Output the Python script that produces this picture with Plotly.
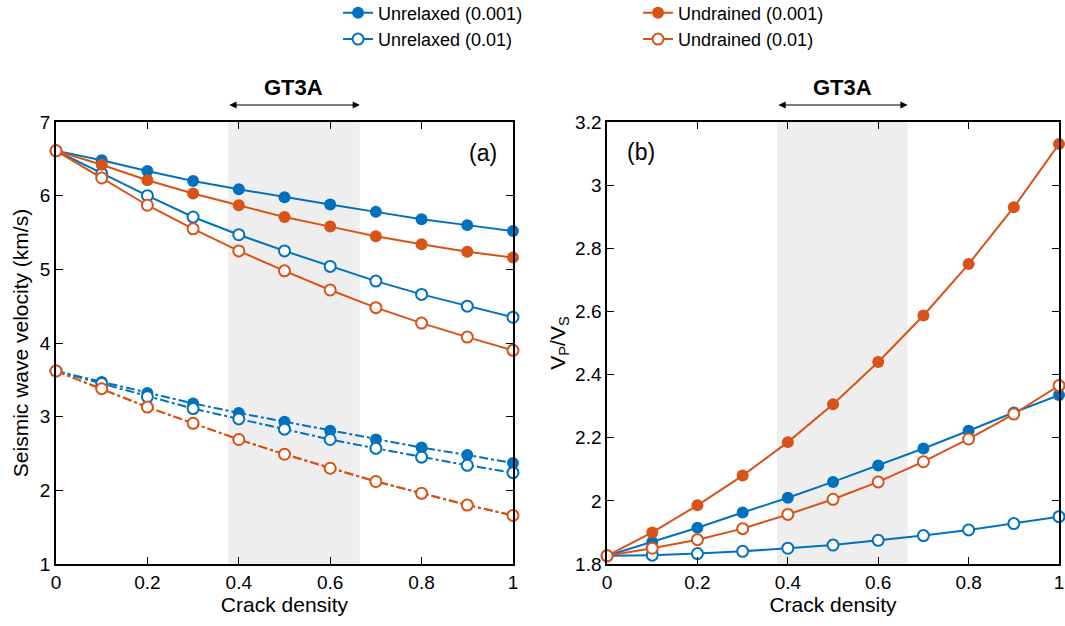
import plotly.graph_objects as go

crack = [0, 0.1, 0.2, 0.3, 0.4, 0.5, 0.6, 0.7, 0.8, 0.9, 1.0]

# Panel (a): velocities (km/s)
vp_unrelaxed_001 = [6.61, 6.48, 6.335, 6.20, 6.086, 5.98, 5.88, 5.78, 5.68, 5.60, 5.52]
vp_unrelaxed_01 = [6.61, 6.30, 6.00, 5.71, 5.47, 5.25, 5.04, 4.84, 4.66, 4.50, 4.35]
vp_undrained_001 = [6.61, 6.42, 6.21, 6.03, 5.87, 5.71, 5.58, 5.45, 5.34, 5.24, 5.16]
vp_undrained_01 = [6.61, 6.24, 5.87, 5.55, 5.25, 4.98, 4.72, 4.48, 4.27, 4.08, 3.90]

vs_unrelaxed_001 = [3.62, 3.47, 3.32, 3.18, 3.05, 2.93, 2.81, 2.69, 2.58, 2.48, 2.37]
vs_unrelaxed_01 = [3.62, 3.45, 3.27, 3.11, 2.97, 2.83, 2.69, 2.57, 2.45, 2.34, 2.24]
vs_undrained_001 = [3.62, 3.38, 3.13, 2.91, 2.69, 2.49, 2.30, 2.12, 1.96, 1.80, 1.66]
vs_undrained_01 = [3.62, 3.38, 3.13, 2.91, 2.69, 2.49, 2.30, 2.12, 1.96, 1.80, 1.66]

# Panel (b): Vp/Vs
ratio_unrelaxed_001 = [1.826, 1.87, 1.915, 1.963, 2.01, 2.06, 2.112, 2.166, 2.222, 2.28, 2.335]
ratio_unrelaxed_01 = [1.826, 1.828, 1.833, 1.84, 1.85, 1.86, 1.875, 1.89, 1.908, 1.928, 1.95]
ratio_undrained_001 = [1.826, 1.90, 1.986, 2.08, 2.186, 2.306, 2.44, 2.587, 2.75, 2.93, 3.13]
ratio_undrained_01 = [1.826, 1.85, 1.877, 1.912, 1.957, 2.005, 2.06, 2.124, 2.196, 2.275, 2.365]

gt3a_range = [0.376, 0.665]

BLUE = "#0072BD"
ORANGE = "#D95319"
FONT = "Liberation Sans, Arial, Helvetica, sans-serif"

fig = go.Figure()


def add(x, y, name, color, filled, dash, xa, ya, showlegend, legend):
    marker = dict(symbol="circle", size=12 if filled else 11,
                  color=color if filled else "white",
                  line=dict(color=color, width=0 if filled else 2))
    fig.add_trace(go.Scatter(
        x=x, y=y, name=name, mode="lines+markers",
        line=dict(color=color, width=2, dash=dash),
        marker=marker, xaxis=xa, yaxis=ya,
        showlegend=showlegend, legend=legend, cliponaxis=False))


# Panel (a)
add(crack, vp_unrelaxed_001, "Unrelaxed (0.001)", BLUE, True, "solid", "x", "y", True, "legend")
add(crack, vp_unrelaxed_01, "Unrelaxed (0.01)", BLUE, False, "solid", "x", "y", True, "legend")
add(crack, vp_undrained_001, "Undrained (0.001)", ORANGE, True, "solid", "x", "y", True, "legend2")
add(crack, vp_undrained_01, "Undrained (0.01)", ORANGE, False, "solid", "x", "y", True, "legend2")
add(crack, vs_unrelaxed_001, "Unrelaxed (0.001)", BLUE, True, "dashdot", "x", "y", False, "legend")
add(crack, vs_unrelaxed_01, "Unrelaxed (0.01)", BLUE, False, "dashdot", "x", "y", False, "legend")
add(crack, vs_undrained_001, "Undrained (0.001)", ORANGE, True, "dashdot", "x", "y", False, "legend2")
add(crack, vs_undrained_01, "Undrained (0.01)", ORANGE, False, "dashdot", "x", "y", False, "legend2")

# Panel (b)
add(crack, ratio_unrelaxed_001, "Unrelaxed (0.001)", BLUE, True, "solid", "x2", "y2", False, "legend")
add(crack, ratio_unrelaxed_01, "Unrelaxed (0.01)", BLUE, False, "solid", "x2", "y2", False, "legend")
add(crack, ratio_undrained_001, "Undrained (0.001)", ORANGE, True, "solid", "x2", "y2", False, "legend2")
add(crack, ratio_undrained_01, "Undrained (0.01)", ORANGE, False, "solid", "x2", "y2", False, "legend2")

axis_common = dict(showgrid=False, zeroline=False, showline=True, linecolor="black",
                   linewidth=1.5, mirror="ticks", ticks="inside", ticklen=7,
                   tickwidth=1.2, tickcolor="black",
                   tickfont=dict(family=FONT, size=19, color="black"))

fig.update_layout(
    width=1065, height=626,
    margin=dict(l=56, r=6, t=122, b=62, autoexpand=False),
    plot_bgcolor="white", paper_bgcolor="white",
    font=dict(family=FONT, size=18, color="black"),
    xaxis=dict(domain=[0, 0.4556], range=[0, 1], tickvals=[0, 0.2, 0.4, 0.6, 0.8, 1],
               title=dict(text="Crack density", font=dict(size=21), standoff=2), **axis_common),
    yaxis=dict(domain=[0, 1], range=[1, 7], tickvals=[1, 2, 3, 4, 5, 6, 7],
               title=dict(text="Seismic wave velocity (km/s)", font=dict(size=21), standoff=6),
               **axis_common),
    xaxis2=dict(domain=[0.5494, 1], range=[0, 1], tickvals=[0, 0.2, 0.4, 0.6, 0.8, 1], anchor="y2",
                title=dict(text="Crack density", font=dict(size=21), standoff=2), **axis_common),
    yaxis2=dict(domain=[0, 1], range=[1.8, 3.2], anchor="x2",
                tickvals=[1.8, 2, 2.2, 2.4, 2.6, 2.8, 3, 3.2],
                title=dict(text="V<sub>P</sub>/V<sub>S</sub>", font=dict(size=21), standoff=4),
                **axis_common),
    legend=dict(x=0.2812, y=1.2885, xanchor="left", yanchor="top", orientation="v",
                bgcolor="rgba(0,0,0,0)", font=dict(size=18), tracegroupgap=0),
    legend2=dict(x=0.5803, y=1.2885, xanchor="left", yanchor="top", orientation="v",
                 bgcolor="rgba(0,0,0,0)", font=dict(size=18), tracegroupgap=0),
)

# Shaded GT3A range
for xr, yr in (("x", "y domain"), ("x2", "y2 domain")):
    fig.add_shape(type="rect", xref=xr, yref=yr, x0=gt3a_range[0], x1=gt3a_range[1],
                  y0=0, y1=1, fillcolor="#EEEEEE", line=dict(width=0), layer="below")

# GT3A arrows and labels (positioned in axis-domain units above the plot)
for xr, yr in (("x", "y domain"), ("x2", "y2 domain")):
    fig.add_annotation(x=gt3a_range[1], y=1.0385, ax=gt3a_range[0], ay=0,
                       xref=xr, yref=yr, axref=xr, ayref="pixel", text="",
                       showarrow=True, arrowhead=2, arrowside="end+start",
                       arrowsize=1.2, arrowwidth=1.2, arrowcolor="black")
    fig.add_annotation(x=sum(gt3a_range) / 2, y=1.079, xref=xr, yref=yr, text="<b>GT3A</b>",
                       showarrow=False, xanchor="center", yanchor="middle",
                       font=dict(size=22, family=FONT, color="black"))

fig.add_annotation(x=0.935, y=6.58, xref="x", yref="y", text="(a)", showarrow=False,
                   font=dict(size=23, family=FONT, color="black"))
fig.add_annotation(x=0.075, y=3.104, xref="x2", yref="y2", text="(b)", showarrow=False,
                   font=dict(size=23, family=FONT, color="black"))

fig.write_html("out.html")
